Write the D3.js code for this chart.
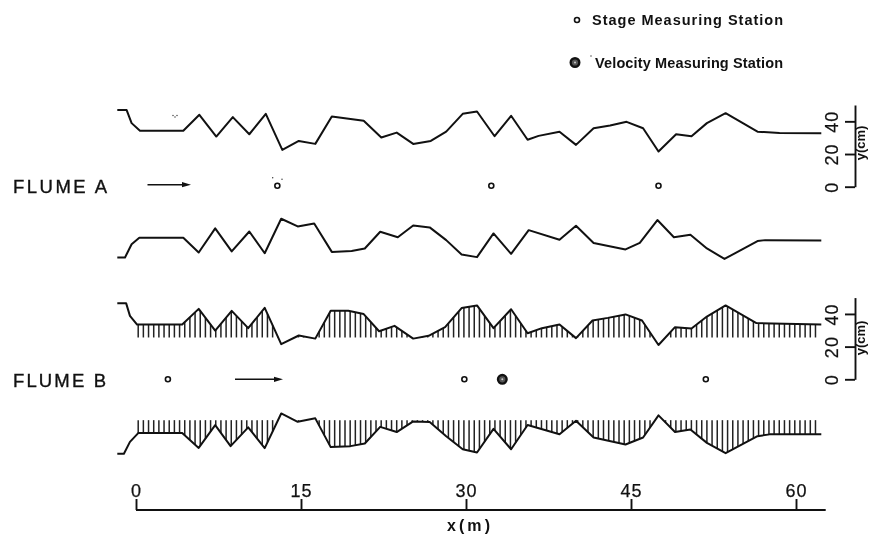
<!DOCTYPE html>
<html>
<head>
<meta charset="utf-8">
<script src="https://cdn.jsdelivr.net/npm/d3@7"></script>
<style>
  html, body { margin: 0; background: #fff; }
  svg { display: block; filter: blur(0.35px); }
  text { font-family: "Liberation Sans", sans-serif; fill: #111; }
  .wall { fill: none; stroke: #111; stroke-width: 2; stroke-linejoin: round; }
  .hatch { stroke: #222; stroke-width: 1.5; }
  .axis path, .axis line { stroke: #111; stroke-width: 1.9; fill: none; }
  .axis text { font-size: 18px; letter-spacing: 1px; stroke: #111; stroke-width: 0.25; }
  .legend { font-size: 14.5px; font-weight: bold; }
  .flume { font-size: 18.5px; stroke: #111; stroke-width: 0.35; }
  .unit { font-size: 13px; font-weight: bold; }
</style>
</head>
<body>
<svg width="869" height="534"></svg>
<script>
// channel walls, x in metres, y in cm from the centre line
const aTopX = [-1.7, -0.85, -0.4, 0.36, 4.3, 5.76, 7.3, 8.8, 10.3, 11.8, 13.3, 14.8, 16.3, 17.8, 20.7, 22.3, 23.7, 25.2, 26.8, 28.2, 29.7, 31.0, 32.6, 34.1, 35.6, 36.6, 38.5, 40.0, 41.6, 43.1, 44.6, 46.1, 47.5, 49.1, 50.5, 51.9, 53.6, 56.5, 58.5, 62.3];
const aTopY = [46.9, 46.9, 38.9, 34.2, 34.2, 44.0, 30.7, 42.6, 32.1, 44.6, 22.5, 28.0, 26.2, 42.9, 40.3, 30.1, 33.1, 26.2, 28.0, 33.7, 44.6, 46.0, 30.9, 43.4, 28.7, 31.1, 33.6, 25.6, 35.8, 37.4, 39.7, 35.8, 21.5, 32.1, 30.9, 38.9, 45.0, 33.7, 32.9, 32.7];

const aBotX = [-1.7, -1.0, -0.4, 0.3, 4.3, 5.7, 7.2, 8.7, 10.3, 11.7, 13.2, 14.7, 16.2, 17.8, 19.6, 20.8, 22.2, 23.8, 25.2, 26.7, 28.2, 29.6, 31.0, 32.5, 34.1, 35.7, 38.5, 40.0, 41.6, 44.5, 45.8, 47.4, 48.9, 50.4, 51.9, 53.5, 56.5, 57.2, 62.3];
const aBotY = [-43.3, -43.3, -35.2, -31.3, -31.3, -40.3, -25.5, -39.6, -27.4, -40.7, -19.6, -24.3, -22.5, -39.9, -39.3, -37.8, -27.6, -30.9, -23.7, -24.9, -32.7, -41.5, -43.1, -28.6, -41.1, -26.6, -32.5, -23.9, -34.4, -38.4, -34.4, -20.4, -30.9, -29.4, -37.8, -44.2, -33.3, -32.7, -32.9];

const bTopX = [-1.7, -0.9, -0.55, 0.1, 4.2, 5.7, 7.2, 8.7, 10.2, 11.7, 13.2, 14.8, 16.3, 17.7, 19.3, 20.7, 22.1, 23.5, 25.2, 26.6, 28.1, 29.6, 31.0, 32.5, 34.1, 35.6, 36.9, 38.5, 40.0, 41.5, 42.9, 44.5, 46.0, 47.5, 49.0, 50.5, 51.9, 53.6, 56.4, 62.3];
const bTopY = [46.6, 46.6, 38.8, 33.5, 33.5, 43.1, 29.8, 41.9, 31.3, 43.7, 21.5, 26.8, 24.9, 41.9, 41.9, 39.9, 29.4, 32.7, 24.9, 26.6, 31.9, 43.6, 45.2, 31.3, 42.9, 28.2, 31.3, 33.5, 25.2, 36.0, 37.6, 39.7, 36.0, 21.0, 31.9, 31.1, 38.4, 45.2, 34.4, 33.5];

const bBotX = [-1.7, -1.1, -0.55, 0.2, 4.2, 5.7, 7.2, 8.6, 10.2, 11.7, 13.2, 14.7, 16.3, 17.7, 19.5, 20.8, 22.2, 23.7, 25.2, 26.7, 28.2, 29.7, 31.0, 32.5, 34.1, 35.6, 38.5, 40.0, 41.6, 44.5, 46.1, 47.5, 49.0, 50.4, 51.9, 53.6, 56.5, 57.6, 62.3];
const bBotY = [-45.6, -45.6, -38.3, -32.9, -32.9, -42.0, -28.0, -40.9, -29.4, -42.1, -20.9, -26.0, -23.9, -41.5, -40.9, -39.3, -29.1, -32.3, -25.8, -26.2, -34.8, -42.8, -44.8, -30.3, -42.8, -28.0, -33.6, -25.4, -35.6, -39.9, -35.6, -22.1, -32.3, -30.7, -38.9, -45.2, -34.8, -33.7, -33.7];

// measuring stations along the centre line
const aStages = [12.85, 32.3, 47.5];
const bStages = [2.9, 29.85, 51.8];
const bVelocity = [33.3];

const xTicks = [0, 15, 30, 45, 60];
const yTicks = [0, 20, 40];

const svg = d3.select("svg");

const x = d3.scaleLinear().domain([0, 62.7]).range([136, 825.7]);
const yA = d3.scaleLinear().domain([0, 50]).range([186.7, 105]);
const yB = d3.scaleLinear().domain([0, 50]).range([379.3, 297.6]);

const wallLine = (y) =>
  d3.line()
    .x((d) => x(d[0]))
    .y((d) => y(d[1]));

// linear lookup of the wall at a hatch position
function wallAt(xs, ys, v) {
  const i = d3.bisectLeft(xs, v);
  if (i <= 0) return ys[0];
  if (i >= xs.length) return ys[ys.length - 1];
  const t = (v - xs[i - 1]) / (xs[i] - xs[i - 1]);
  return ys[i - 1] + t * (ys[i] - ys[i - 1]);
}

const hatchX = d3.range(0.2, 62.1, 0.47);

function drawHatch(xs, ys, base, y) {
  const sign = Math.sign(base);
  const data = hatchX
    .map((v) => [v, wallAt(xs, ys, v)])
    .filter((d) => d[1] * sign > base * sign);
  svg.append("g")
    .selectAll("line")
    .data(data)
    .join("line")
    .attr("class", "hatch")
    .attr("x1", (d) => x(d[0]))
    .attr("x2", (d) => x(d[0]))
    .attr("y1", y(base))
    .attr("y2", (d) => y(d[1]));
}

drawHatch(bTopX, bTopY, 25.6, yB);
drawHatch(bBotX, bBotY, -25, yB);

[
  [aTopX, aTopY, yA],
  [aBotX, aBotY, yA],
  [bTopX, bTopY, yB],
  [bBotX, bBotY, yB],
].forEach(([xs, ys, y]) => {
  svg.append("path")
    .attr("class", "wall")
    .attr("d", wallLine(y)(xs.map((v, i) => [v, ys[i]])));
});

// stations
function stage(cx, cy) {
  svg.append("circle")
    .attr("cx", cx).attr("cy", cy).attr("r", 2.5)
    .attr("fill", "#fff").attr("stroke", "#111").attr("stroke-width", 1.6);
}

function velocity(cx, cy) {
  svg.append("circle")
    .attr("cx", cx).attr("cy", cy).attr("r", 4.3)
    .attr("fill", "#555").attr("stroke", "#111").attr("stroke-width", 2.4);
  svg.append("circle")
    .attr("cx", cx).attr("cy", cy).attr("r", 1)
    .attr("fill", "#ccc");
}

aStages.forEach((d) => stage(x(d), yA(0.6)));
bStages.forEach((d) => stage(x(d), yB(0)));
bVelocity.forEach((d) => velocity(x(d), yB(0)));

// flow arrows
function arrow(x0, x1, cy) {
  svg.append("line")
    .attr("x1", x0).attr("x2", x1 - 5).attr("y1", cy).attr("y2", cy)
    .attr("stroke", "#111").attr("stroke-width", 1.6);
  svg.append("path")
    .attr("d", `M${x1 - 9},${cy - 2.6}L${x1},${cy}L${x1 - 9},${cy + 2.6}Z`)
    .attr("fill", "#111");
}

arrow(147.5, 191, 184.7);
arrow(235, 283, 379.3);

// flume names
svg.append("text").attr("class", "flume").attr("x", 13).attr("y", 193)
  .attr("textLength", 94).text("FLUME A");
svg.append("text").attr("class", "flume").attr("x", 13).attr("y", 387)
  .attr("textLength", 93).text("FLUME B");

// axes
const xAxis = svg.append("g")
  .attr("class", "axis")
  .attr("transform", "translate(0,510)")
  .call(d3.axisTop(x).tickValues(xTicks).tickSize(11).tickSizeOuter(0).tickPadding(2));
xAxis.select(".domain").attr("d", `M${x.range()[0]},0H${x.range()[1]}`);

function yAxis(scale, unitY) {
  const g = svg.append("g")
    .attr("class", "axis")
    .attr("transform", "translate(855,0)")
    .call(d3.axisLeft(scale).tickValues(yTicks).tickSize(10).tickSizeOuter(0));
  g.selectAll(".tick text")
    .attr("x", 0).attr("y", 0).attr("dy", 0)
    .attr("text-anchor", "middle")
    .attr("transform", "translate(-17,0) rotate(-90)");
  svg.append("text")
    .attr("class", "unit")
    .attr("text-anchor", "middle")
    .attr("transform", `translate(865,${unitY}) rotate(-90)`)
    .text("y(cm)");
}

yAxis(yA, 143);
yAxis(yB, 338);

svg.append("text")
  .attr("x", 447).attr("y", 531)
  .attr("textLength", 43)
  .style("font-size", "16px").style("font-weight", "bold")
  .text("x(m)");

// legend
stage(577, 20);
velocity(575, 62.5);
svg.append("text").attr("class", "legend").attr("x", 592).attr("y", 25)
  .attr("textLength", 191).text("Stage  Measuring Station");
svg.append("text").attr("class", "legend").attr("x", 595).attr("y", 68)
  .attr("textLength", 188).text("Velocity Measuring Station");

// scan specks on the original
const specks = [[272.7, 177.7], [282, 179.3], [591, 56], [175, 117], [177, 115.5], [173, 115.5]];
svg.append("g")
  .selectAll("circle")
  .data(specks)
  .join("circle")
  .attr("cx", (d) => d[0])
  .attr("cy", (d) => d[1])
  .attr("r", 0.7)
  .attr("fill", "#333");
</script>
</body>
</html>
